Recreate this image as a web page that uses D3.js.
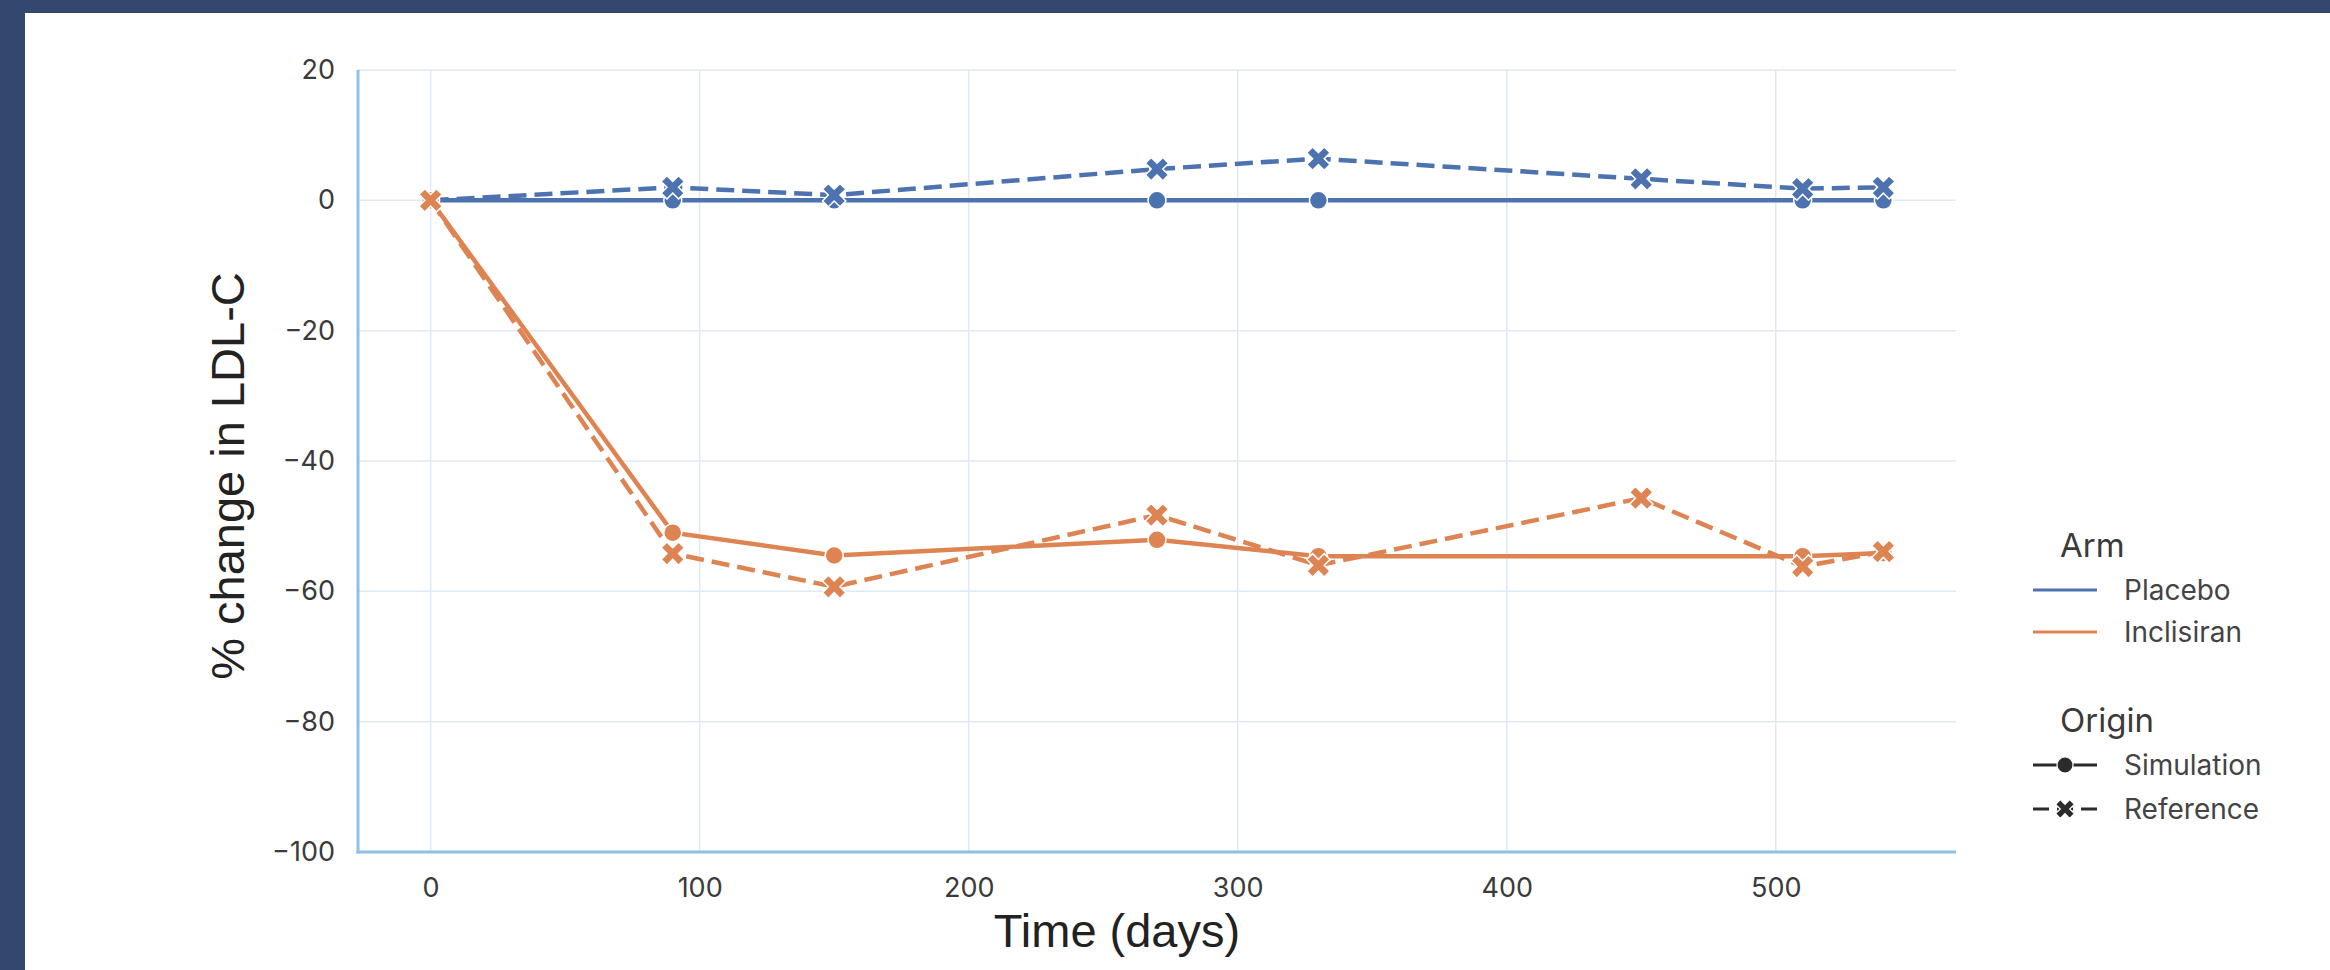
<!DOCTYPE html>
<html>
<head>
<meta charset="utf-8">
<script src="https://cdn.jsdelivr.net/npm/d3@7"></script>
<style>
  body { margin: 0; background: #fff; }
  svg { display: block; }
</style>
</head>
<body>
<div id="chart"></div>
<script>
// data
var arms = ["Placebo", "Inclisiran"];
var origins = ["Simulation", "Reference"];

var simDays = [0, 90, 150, 270, 330, 510, 540];
var refDays = [0, 90, 150, 270, 330, 450, 510, 540];

var placeboSim = [0, 0, 0, 0, 0, 0, 0];
var placeboRef = [0, 2.0, 0.8, 4.8, 6.4, 3.3, 1.8, 2.0];
var inclisiranSim = [0, -51.0, -54.5, -52.1, -54.6, -54.6, -54.1];
var inclisiranRef = [0, -54.2, -59.3, -48.3, -56.0, -45.7, -56.2, -53.9];

var xTicks = [0, 100, 200, 300, 400, 500];
var yTicks = [-100, -80, -60, -40, -20, 0, 20];

var colors = { Placebo: "#4c72b0", Inclisiran: "#dd8452" };

var series = [
  { arm: "Placebo", origin: "Simulation", days: simDays, values: placeboSim },
  { arm: "Placebo", origin: "Reference", days: refDays, values: placeboRef },
  { arm: "Inclisiran", origin: "Simulation", days: simDays, values: inclisiranSim },
  { arm: "Inclisiran", origin: "Reference", days: refDays, values: inclisiranRef }
];

var W = 2330, H = 970;
var plot = { left: 358, right: 1956, top: 70, bottom: 852 };

var svg = d3.select("#chart")
  .append("svg")
  .attr("width", W)
  .attr("height", H);

// navy frame + white card
svg.append("rect").attr("width", W).attr("height", H).attr("fill", "#34476f");
svg.append("rect").attr("x", 25).attr("y", 13).attr("width", W - 25).attr("height", H - 13).attr("fill", "#ffffff");

var x = d3.scaleLinear().domain([-27, 567]).range([plot.left, plot.right]);
var y = d3.scaleLinear().domain([-100, 20]).range([plot.bottom, plot.top]);

// grid
var grid = svg.append("g").attr("stroke", "#dfe9f3").attr("stroke-width", 1.5);
grid.selectAll(".vg").data(xTicks).enter().append("line")
  .attr("x1", function(d) { return x(d); })
  .attr("x2", function(d) { return x(d); })
  .attr("y1", plot.top).attr("y2", plot.bottom);
grid.selectAll(".hg").data(yTicks).enter().append("line")
  .attr("x1", plot.left).attr("x2", plot.right)
  .attr("y1", function(d) { return y(d); })
  .attr("y2", function(d) { return y(d); });

// axes (labels only, spines drawn separately)
var xAxis = svg.append("g")
  .attr("transform", "translate(0," + plot.bottom + ")")
  .call(d3.axisBottom(x).tickValues(xTicks).tickSize(0).tickPadding(26));
var yAxis = svg.append("g")
  .attr("transform", "translate(" + plot.left + ",0)")
  .call(d3.axisLeft(y).tickValues(yTicks).tickSize(0).tickPadding(23));
[xAxis, yAxis].forEach(function(a) {
  a.select(".domain").remove();
  a.selectAll("text")
    .attr("fill", "#3a3a3a")
    .style("font-family", "Inter, 'Noto Sans', sans-serif")
    .style("font-size", "27px");
});

// spines
svg.append("line")
  .attr("x1", plot.left).attr("x2", plot.left)
  .attr("y1", plot.top).attr("y2", plot.bottom + 1.5)
  .attr("stroke", "#8fc0e6").attr("stroke-width", 3);
svg.append("line")
  .attr("x1", plot.left - 1.5).attr("x2", plot.right)
  .attr("y1", plot.bottom).attr("y2", plot.bottom)
  .attr("stroke", "#8fc0e6").attr("stroke-width", 3);

// axis titles
svg.append("text")
  .attr("transform", "translate(227,476) rotate(-90)")
  .attr("text-anchor", "middle")
  .attr("dominant-baseline", "central")
  .attr("fill", "#222")
  .style("font-family", "'Liberation Sans', Arial, sans-serif")
  .style("font-size", "47px")
  .text("% change in LDL-C");
svg.append("text")
  .attr("x", 1117).attr("y", 947)
  .attr("text-anchor", "middle")
  .attr("fill", "#222")
  .style("font-family", "'Liberation Sans', Arial, sans-serif")
  .style("font-size", "47px")
  .text("Time (days)");

var line = d3.line()
  .x(function(d) { return x(d[0]); })
  .y(function(d) { return y(d[1]); });

var xMark = d3.symbol().type(d3.symbolCross).size(340);
var xMarkSmall = d3.symbol().type(d3.symbolCross).size(220);

series.forEach(function(s) {
  var pts = s.days.map(function(d, i) { return [d, s.values[i]]; });
  var g = svg.append("g");
  g.append("path")
    .datum(pts)
    .attr("d", line)
    .attr("fill", "none")
    .attr("stroke", colors[s.arm])
    .attr("stroke-width", 4.5)
    .attr("stroke-dasharray", s.origin == "Reference" ? "18,8" : null);
  if (s.origin == "Simulation") {
    g.selectAll("circle").data(pts).enter().append("circle")
      .attr("cx", function(d) { return x(d[0]); })
      .attr("cy", function(d) { return y(d[1]); })
      .attr("r", 9)
      .attr("fill", colors[s.arm])
      .attr("stroke", "#fff")
      .attr("stroke-width", 1.5);
  } else {
    g.selectAll(".mk").data(pts).enter().append("path")
      .attr("d", xMark)
      .attr("transform", function(d) { return "translate(" + x(d[0]) + "," + y(d[1]) + ") rotate(45)"; })
      .attr("fill", colors[s.arm])
      .attr("stroke", "#fff")
      .attr("stroke-width", 1.5);
  }
});

// legend
var legend = svg.append("g")
  .style("font-family", "Inter, 'Noto Sans', sans-serif");

function title(txt, yy) {
  legend.append("text")
    .attr("x", 2060).attr("y", yy)
    .attr("fill", "#3a3a3a")
    .style("font-size", "33px")
    .text(txt);
}
function label(txt, yy) {
  legend.append("text")
    .attr("x", 2124).attr("y", yy)
    .attr("dominant-baseline", "central")
    .attr("fill", "#444")
    .style("font-size", "28px")
    .text(txt);
}

title("Arm", 557);
arms.forEach(function(a, i) {
  var yy = 590 + i * 42;
  legend.append("line")
    .attr("x1", 2033).attr("x2", 2097)
    .attr("y1", yy).attr("y2", yy)
    .attr("stroke", colors[a]).attr("stroke-width", 3);
  label(a, yy);
});

title("Origin", 732);
origins.forEach(function(o, i) {
  var yy = 765 + i * 44;
  legend.append("line")
    .attr("x1", 2033).attr("x2", 2097)
    .attr("y1", yy).attr("y2", yy)
    .attr("stroke", "#2b2b2b").attr("stroke-width", 3)
    .attr("stroke-dasharray", o == "Reference" ? "16,8" : null);
  if (o == "Simulation") {
    legend.append("circle")
      .attr("cx", 2065).attr("cy", yy).attr("r", 8)
      .attr("fill", "#2b2b2b").attr("stroke", "#fff").attr("stroke-width", 1.2);
  } else {
    legend.append("path")
      .attr("d", xMarkSmall)
      .attr("transform", "translate(2065," + yy + ") rotate(45)")
      .attr("fill", "#2b2b2b").attr("stroke", "#fff").attr("stroke-width", 1.2);
  }
  label(o, yy);
});
</script>
</body>
</html>
